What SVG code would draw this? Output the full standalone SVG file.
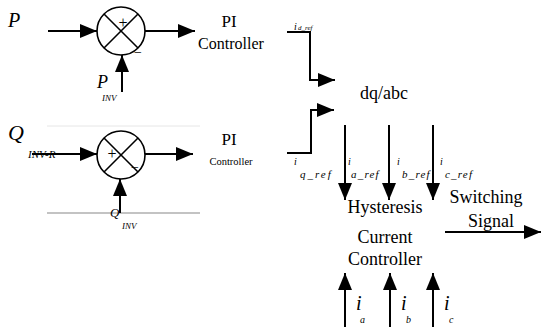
<svg xmlns="http://www.w3.org/2000/svg" width="541" height="327" viewBox="0 0 541 327">
<style>
  text { font-family: "Liberation Serif", "Times New Roman", serif; fill: #000; }
  .it { font-style: italic; }
  .ln { stroke: #000; stroke-width: 2; fill: none; }
  .arr { marker-end: url(#ah); }
  .sum { stroke: #000; stroke-width: 1.6; fill: #fff; }
  .x { stroke: #000; stroke-width: 1.6; }
  .mid { text-anchor: middle; }
</style>
<defs>
  <marker id="ah" viewBox="0 0 17 14" refX="17" refY="7" markerWidth="17" markerHeight="14" markerUnits="userSpaceOnUse" orient="auto">
    <path d="M0,0 L17,7 L0,14 Z" fill="#000"/>
  </marker>
</defs>
<rect width="541" height="327" fill="#fff"/>

<g id="frame-lines">
  <line x1="47" y1="126" x2="200" y2="126" stroke="#e6e6e6" stroke-width="1"/>
  <line x1="47" y1="213" x2="200" y2="213" stroke="#888" stroke-width="1.2"/>
</g>

<g id="connectors">
  <line class="ln arr" x1="48" y1="31" x2="97" y2="31"/>
  <line class="ln arr" x1="145" y1="31" x2="195" y2="31"/>
  <line class="ln arr" x1="122" y1="92" x2="122" y2="55"/>
  <line class="ln arr" x1="32" y1="154" x2="97" y2="154"/>
  <line class="ln arr" x1="145" y1="154" x2="193" y2="154"/>
  <line class="ln arr" x1="120" y1="213" x2="120" y2="179"/>
  <polyline class="ln arr" points="287,32 310,32 310,80 335,80"/>
  <polyline class="ln arr" points="287,153 311,153 311,110 334,110"/>
  <line class="ln arr" x1="345" y1="125" x2="345" y2="200"/>
  <line class="ln arr" x1="389" y1="125" x2="389" y2="200"/>
  <line class="ln arr" x1="433" y1="125" x2="433" y2="200"/>
  <line class="ln arr" x1="445" y1="232" x2="541" y2="232"/>
  <line class="ln arr" x1="345" y1="327" x2="345" y2="273"/>
  <line class="ln arr" x1="390" y1="327" x2="390" y2="273"/>
  <line class="ln arr" x1="433" y1="327" x2="433" y2="273"/>
</g>

<g id="sum1">
  <circle class="sum" cx="121" cy="31" r="24"/>
  <line class="x" x1="104" y1="14" x2="138" y2="48"/>
  <line class="x" x1="138" y1="14" x2="104" y2="48"/>
  <text class="mid" x="123" y="28" font-size="16">+</text>
  <text class="mid" x="138" y="57" font-size="14">−</text>
</g>

<g id="sum2">
  <circle class="sum" cx="121" cy="155" r="24"/>
  <line class="x" x1="104" y1="138" x2="138" y2="172"/>
  <line class="x" x1="138" y1="138" x2="104" y2="172"/>
  <text class="mid" x="112" y="159" font-size="16">+</text>
  <text class="mid" x="135" y="172" font-size="14">−</text>
</g>

<g id="inputs">
  <text class="it" x="8" y="27" font-size="20">P</text>
  <text class="it" x="97" y="88" font-size="18">P</text>
  <text class="it" x="102" y="101" font-size="9">INV</text>
  <text class="it" x="8" y="140" font-size="22">Q</text>
  <text class="it" x="28" y="158" font-size="11">INV-R</text>
  <text class="it" x="110" y="217" font-size="13">Q</text>
  <text class="it" x="122" y="229" font-size="9">INV</text>
</g>

<g id="pi1">
  <text class="mid" x="229" y="27" font-size="17">PI</text>
  <text class="mid" x="231" y="49" font-size="16">Controller</text>
</g>

<g id="pi2">
  <text class="mid" x="229" y="145" font-size="17">PI</text>
  <text class="mid" x="231" y="165" font-size="10.5">Controller</text>
</g>

<g id="dqabc">
  <text x="360" y="99" font-size="18">dq/abc</text>
</g>

<g id="ref-labels">
  <text class="it" x="294" y="30" font-size="10">i</text>
  <text class="it" x="298" y="30" font-size="7">d_ref</text>
  <text class="it" x="294" y="165" font-size="10">i</text>
  <text class="it" x="300" y="178" font-size="11" letter-spacing="2">q_ref</text>
  <text class="it" x="348" y="165" font-size="10">i</text>
  <text class="it" x="351" y="178" font-size="11" letter-spacing="1.2">a_ref</text>
  <text class="it" x="397" y="165" font-size="10">i</text>
  <text class="it" x="402" y="178" font-size="11" letter-spacing="1.2">b_ref</text>
  <text class="it" x="440" y="165" font-size="10">i</text>
  <text class="it" x="445" y="178" font-size="11" letter-spacing="1.2">c_ref</text>
</g>

<g id="hcc">
  <text class="mid" x="385" y="213" font-size="18">Hysteresis</text>
  <text class="mid" x="385" y="243" font-size="18">Current</text>
  <text class="mid" x="385" y="265" font-size="18">Controller</text>
</g>

<g id="switching">
  <text class="mid" x="486" y="203" font-size="18">Switching</text>
  <text class="mid" x="491" y="227" font-size="18">Signal</text>
</g>

<g id="measured">
  <text class="it" x="356" y="310" font-size="20">i</text>
  <text class="it" x="360" y="323" font-size="10">a</text>
  <text class="it" x="401" y="310" font-size="20">i</text>
  <text class="it" x="406" y="323" font-size="10">b</text>
  <text class="it" x="444" y="310" font-size="20">i</text>
  <text class="it" x="449" y="323" font-size="10">c</text>
</g>
</svg>
